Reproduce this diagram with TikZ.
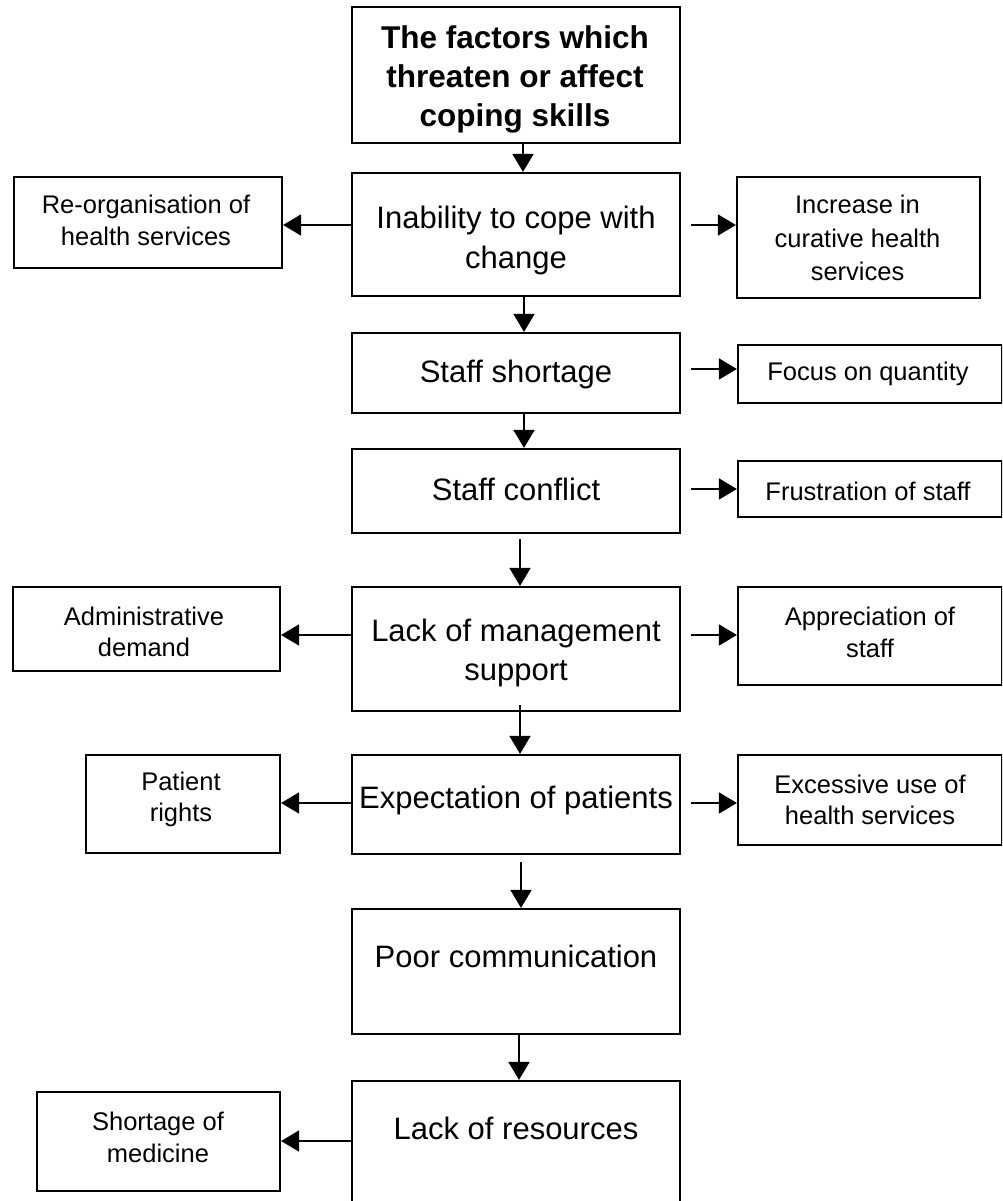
\documentclass[tikz,border=0pt]{standalone}
\usepackage{fontspec}
\setmainfont{Liberation Sans}
\usetikzlibrary{arrows.meta}
\begin{document}
\begin{tikzpicture}[x=1pt,y=-1pt,
  box/.style={draw, line width=2.2pt, inner sep=0pt, minimum width=#1},
  box/.default=328,
  arr/.style={line width=1.8pt, -{Triangle[length=18pt,width=21pt]}},
  maintxt/.style={inner sep=0pt, align=center, font=\fontsize{31pt}{40pt}\selectfont},
  sidetxt/.style={inner sep=0pt, align=center, font=\fontsize{25.5pt}{32pt}\selectfont},
  toptxt/.style={inner sep=0pt, align=center, font=\bfseries\fontsize{31.5pt}{39pt}\selectfont}]
\useasboundingbox (0,0) rectangle (1002,1201);
\clip (0,0) rectangle (1002,1201);
% main column
\node[box, minimum height=136] (top) at (516,75) {};
\node[box, minimum height=123] (inab) at (516,234.5) {};
\node[box, minimum height=80] (staff) at (516,373) {};
\node[box, minimum height=84] (conf) at (516,491) {};
\node[box, minimum height=124] (lack) at (516,649) {};
\node[box, minimum height=99] (expe) at (516,804.5) {};
\node[box, minimum height=125] (poor) at (516,971.5) {};
\node[box, minimum height=134] (res) at (516,1148) {};
% left column
\node[box=268, minimum height=91] (reorg) at (148,222.5) {};
\node[box=267, minimum height=84] (admin) at (146.5,629) {};
\node[box=194, minimum height=98] (pat) at (183,804) {};
\node[box=243, minimum height=99] (short) at (158.5,1141.5) {};
% right column
\node[box=243, minimum height=121] (incr) at (858.5,237.5) {};
\node[box=264, minimum height=58] (focus) at (870,374) {};
\node[box=264, minimum height=56] (frus) at (870,489) {};
\node[box=264, minimum height=98] (appr) at (870,636) {};
\node[box=264, minimum height=90] (exce) at (870,800) {};
% texts
\node[toptxt] (topT) at (515,79) {The factors which\\threaten or affect\\coping skills};
\node[maintxt] (inabT) at (516,240) {Inability to cope with\\change};
\node[maintxt] (staffT) at (516,374) {Staff shortage};
\node[maintxt] (confT) at (516,489) {Staff conflict};
\node[maintxt, font=\fontsize{31pt}{39pt}\selectfont] (lackT) at (516,653) {Lack of management\\support};
\node[maintxt] (expeT) at (516,800) {Expectation of patients};
\node[maintxt] (poorT) at (516,956) {Poor communication};
\node[maintxt] (resT) at (516,1128) {Lack of resources};
\node[sidetxt] (reorgT) at (146,220) {Re-organisation of\\health services};
\node[sidetxt, font=\fontsize{25.5pt}{33.5pt}\selectfont] (incrT) at (857.5,238) {Increase in\\curative health\\services};
\node[sidetxt] (focusT) at (868,374) {Focus on quantity};
\node[sidetxt] (frusT) at (868,491) {Frustration of staff};
\node[sidetxt, font=\fontsize{25.5pt}{31pt}\selectfont] (adminT) at (144,631.5) {Administrative\\demand};
\node[sidetxt] (apprT) at (870,632) {Appreciation of\\staff};
\node[sidetxt, font=\fontsize{25.5pt}{31pt}\selectfont] (patT) at (181,799.5) {Patient\\rights};
\node[sidetxt, font=\fontsize{25.5pt}{31pt}\selectfont] (exceT) at (870,799.5) {Excessive use of\\health services};
\node[sidetxt] (shortT) at (158,1137) {Shortage of\\medicine};
% vertical arrows
\draw[arr] ([xshift=7]top.south) -- ([xshift=7]inab.north);
\draw[arr] ([xshift=8]inab.south) -- ([xshift=8]staff.north);
\draw[arr] ([xshift=8]staff.south) -- ([xshift=8]conf.north);
\draw[arr] ([xshift=4,yshift=-5]conf.south) -- ([xshift=4]lack.north);
\draw[arr] ([xshift=4,yshift=7]lack.south) -- ([xshift=4]expe.north);
\draw[arr] ([xshift=5,yshift=-7]expe.south) -- ([xshift=5]poor.north);
\draw[arr] ([xshift=3]poor.south) -- ([xshift=3]res.north);
% side arrows
\draw[arr] ([yshift=9.5]inab.west) -- ([yshift=9.5]inab.west -| reorg.east);
\draw[arr] ([xshift=10,yshift=9.5]inab.east) -- ([yshift=9.5]inab.east -| incr.west);
\draw[arr] ([xshift=10,yshift=4]staff.east) -- ([yshift=4]staff.east -| focus.west);
\draw[arr] ([xshift=10,yshift=2]conf.east) -- ([yshift=2]conf.east -| frus.west);
\draw[arr] ([yshift=14]lack.west) -- ([yshift=14]lack.west -| admin.east);
\draw[arr] ([xshift=10,yshift=14]lack.east) -- ([yshift=14]lack.east -| appr.west);
\draw[arr] ([yshift=1.5]expe.west) -- ([yshift=1.5]expe.west -| pat.east);
\draw[arr] ([xshift=10,yshift=1.5]expe.east) -- ([yshift=1.5]expe.east -| exce.west);
\draw[arr] ([yshift=7]res.west) -- ([yshift=7]res.west -| short.east);
\end{tikzpicture}
\end{document}
